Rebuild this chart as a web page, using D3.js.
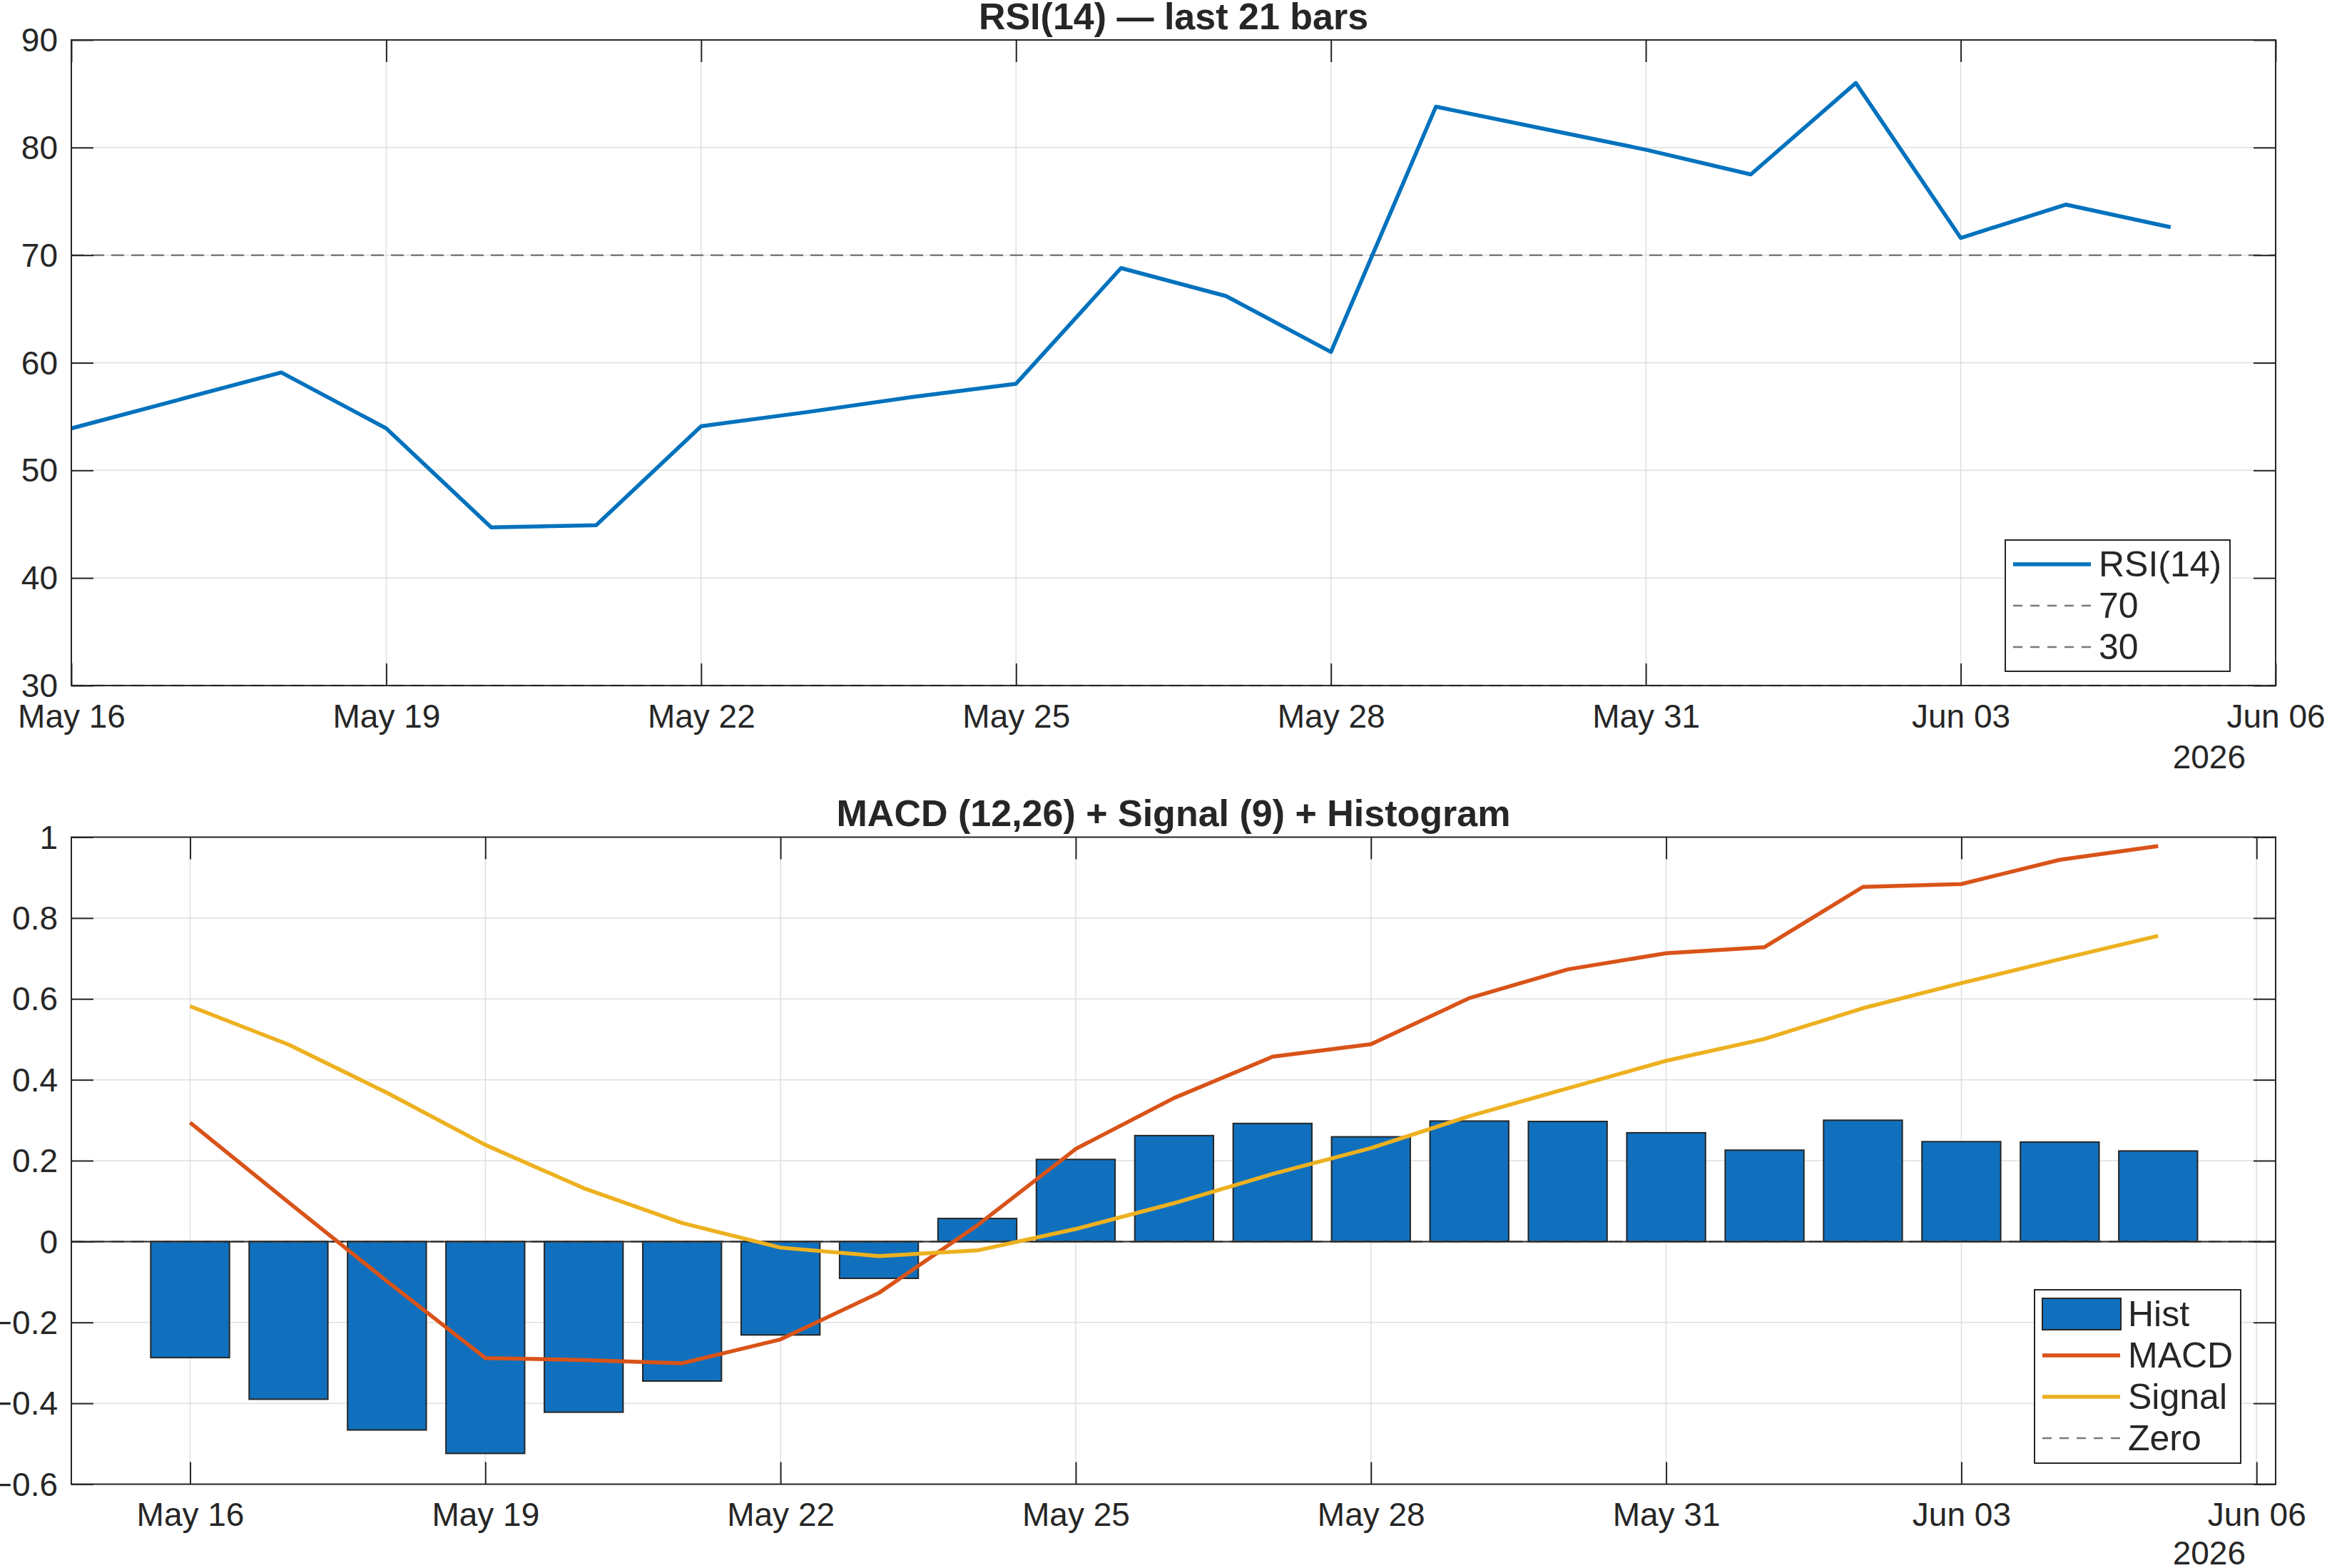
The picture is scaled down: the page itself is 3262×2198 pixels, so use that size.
<!DOCTYPE html>
<html>
<head>
<meta charset="utf-8">
<script src="https://cdn.jsdelivr.net/npm/d3@7"></script>
<style>
body { margin: 0; background: #fff; }
text { font-family: "Liberation Sans", Arial, Helvetica, sans-serif; fill: #262626; }
</style>
</head>
<body>
<div id="chart"></div>
<script>
// Data (21 daily bars)
var dates = ["2026-05-16", "2026-05-17", "2026-05-18", "2026-05-19", "2026-05-20", "2026-05-21", "2026-05-22",
             "2026-05-23", "2026-05-24", "2026-05-25", "2026-05-26", "2026-05-27", "2026-05-28", "2026-05-29",
             "2026-05-30", "2026-05-31", "2026-06-01", "2026-06-02", "2026-06-03", "2026-06-04", "2026-06-05"];
var rsi = [53.9, 56.5, 59.1, 53.9, 44.7, 44.9, 54.1, 55.4, 56.8, 58.05, 68.8,
           66.2, 61.0, 83.8, 81.8, 79.8, 77.5, 86.0, 71.6, 74.7, 72.6];
var hist = [-0.287, -0.390, -0.466, -0.524, -0.422, -0.345, -0.231, -0.091, 0.057, 0.203, 0.262,
            0.292, 0.259, 0.298, 0.297, 0.269, 0.226, 0.300, 0.247, 0.246, 0.224];
var macd = [0.294, 0.097, -0.098, -0.288, -0.293, -0.301, -0.242, -0.127, 0.040, 0.229, 0.355,
            0.457, 0.488, 0.602, 0.673, 0.713, 0.728, 0.877, 0.884, 0.944, 0.978];
var signal = [0.582, 0.487, 0.368, 0.239, 0.132, 0.046, -0.015, -0.036, -0.022, 0.031, 0.095,
              0.167, 0.231, 0.310, 0.379, 0.447, 0.501, 0.577, 0.639, 0.698, 0.756];
var tickDates = ["2026-05-16", "2026-05-19", "2026-05-22", "2026-05-25", "2026-05-28", "2026-05-31", "2026-06-03", "2026-06-06"];
var rsiTicks = [30, 40, 50, 60, 70, 80, 90];
var macdTicks = [-0.6, -0.4, -0.2, 0, 0.2, 0.4, 0.6, 0.8, 1];
var rsiLevels = [70, 30];

var parseDate = d3.timeParse("%Y-%m-%d");
var fmtDate = d3.timeFormat("%b %d");
var DAY = 86400000;

var days = dates.map(parseDate);
var ticks = tickDates.map(parseDate);

var W = 3262, H = 2198;
var axisColor = "#262626", gridColor = "#dfdfdf";
var tickLen = 31;
var lineW = 5.5;

var svg = d3.select("#chart")
    .append("svg")
        .attr("width", W)
        .attr("height", H)
        .style("display", "block");

svg.append("rect").attr("width", W).attr("height", H).attr("fill", "#fff");

// grid lines under the data
function drawGrid(g, x, y, width, height, yTicks) {
    g.append("g").selectAll("line")
        .data(ticks)
        .enter().append("line")
            .attr("x1", d => x(d)).attr("x2", d => x(d))
            .attr("y1", 0).attr("y2", height)
            .attr("stroke", gridColor).attr("stroke-width", 1.5);
    g.append("g").selectAll("line")
        .data(yTicks)
        .enter().append("line")
            .attr("x1", 0).attr("x2", width)
            .attr("y1", d => y(d)).attr("y2", d => y(d))
            .attr("stroke", gridColor).attr("stroke-width", 1.5);
}

// ticks on all four sides + box, MATLAB style
function drawAxes(g, x, y, width, height, yTicks, yFmt, yearY) {
    var bottom = g.append("g")
        .attr("transform", "translate(0," + height + ")")
        .call(d3.axisBottom(x).tickValues(ticks).tickFormat(fmtDate)
            .tickSizeInner(-tickLen).tickSizeOuter(0).tickPadding(26));
    var top = g.append("g")
        .call(d3.axisTop(x).tickValues(ticks).tickFormat("")
            .tickSizeInner(-tickLen).tickSizeOuter(0));
    var left = g.append("g")
        .call(d3.axisLeft(y).tickValues(yTicks).tickFormat(yFmt)
            .tickSizeInner(-tickLen).tickSizeOuter(0).tickPadding(19));
    var right = g.append("g")
        .attr("transform", "translate(" + width + ",0)")
        .call(d3.axisRight(y).tickValues(yTicks).tickFormat("")
            .tickSizeInner(-tickLen).tickSizeOuter(0));
    [bottom, top, left, right].forEach(function(a) {
        a.select(".domain").remove();
        a.selectAll(".tick line").attr("stroke", axisColor).attr("stroke-width", 2);
        a.selectAll(".tick text")
            .attr("font-size", "46px")
            .attr("font-family", "Liberation Sans, Arial, sans-serif")
            .attr("fill", axisColor);
    });
    left.selectAll(".tick text").attr("dy", "0.34em");

    g.append("rect")
        .attr("width", width).attr("height", height)
        .attr("fill", "none")
        .attr("stroke", axisColor).attr("stroke-width", 2);

    g.append("text")
        .attr("x", 3148 - 100)
        .attr("y", yearY)
        .attr("text-anchor", "end")
        .attr("font-size", "46px")
        .text("2026");
}

function legend(items, bx, by, bw, bh) {
    var lg = svg.append("g");
    lg.append("rect")
        .attr("x", bx).attr("y", by).attr("width", bw).attr("height", bh)
        .attr("fill", "#fff").attr("stroke", axisColor).attr("stroke-width", 2);
    items.forEach(function(it, i) {
        var cy = by + 34 + i * 58;
        if (it.type === "patch") {
            lg.append("rect")
                .attr("x", bx + 11).attr("y", cy - 22).attr("width", 110).attr("height", 44)
                .attr("fill", it.color).attr("stroke", axisColor).attr("stroke-width", 2);
        } else {
            lg.append("line")
                .attr("x1", bx + 11).attr("x2", bx + 120)
                .attr("y1", cy).attr("y2", cy)
                .attr("stroke", it.color)
                .attr("stroke-width", it.dash ? 2.5 : lineW)
                .attr("stroke-dasharray", it.dash ? "13,11" : null);
        }
        lg.append("text")
            .attr("x", bx + 131)
            .attr("y", cy + 17)
            .attr("font-size", "50px")
            .text(it.label);
    });
}

// ---------- RSI panel ----------
var m1 = {left: 100, top: 56, width: 3090, height: 905};
var g1 = svg.append("g").attr("transform", "translate(" + m1.left + "," + m1.top + ")");

var x1 = d3.scaleTime()
    .domain([parseDate("2026-05-16"), parseDate("2026-06-06")])
    .range([0, m1.width]);
var y1 = d3.scaleLinear().domain([30, 90]).range([m1.height, 0]);

drawGrid(g1, x1, y1, m1.width, m1.height, rsiTicks);

g1.selectAll("line.lvl")
    .data(rsiLevels)
    .enter().append("line")
        .attr("class", "lvl")
        .attr("x1", 0).attr("x2", m1.width)
        .attr("y1", d => y1(d)).attr("y2", d => y1(d))
        .attr("stroke", "#7a7a7a").attr("stroke-width", 2.5)
        .attr("stroke-dasharray", "18,10");

var rsiLine = d3.line()
    .x((d, i) => x1(days[i]))
    .y(d => y1(d));
g1.append("path")
    .datum(rsi)
    .attr("d", rsiLine)
    .attr("fill", "none")
    .attr("stroke", "#0072BD")
    .attr("stroke-width", lineW)
    .attr("stroke-linejoin", "round");

drawAxes(g1, x1, y1, m1.width, m1.height, rsiTicks, d3.format("d"), 1076.7 - m1.top);

svg.append("text")
    .attr("x", m1.left + m1.width / 2)
    .attr("y", 40.7)
    .attr("text-anchor", "middle")
    .attr("font-size", "52px")
    .attr("font-weight", "bold")
    .text("RSI(14) \u2014 last 21 bars");

legend([
    {label: "RSI(14)", color: "#0072BD"},
    {label: "70", color: "#7a7a7a", dash: true},
    {label: "30", color: "#7a7a7a", dash: true}
], 2811, 757, 315, 184);

// ---------- MACD panel ----------
var m2 = {left: 100, top: 1173.5, width: 3090, height: 907};
var g2 = svg.append("g").attr("transform", "translate(" + m2.left + "," + m2.top + ")");

var x2 = d3.scaleTime()
    .domain([new Date(+parseDate("2026-05-16") - 1.207 * DAY), new Date(+parseDate("2026-06-06") + 0.194 * DAY)])
    .range([0, m2.width]);
var y2 = d3.scaleLinear().domain([-0.6, 1]).range([m2.height, 0]);

drawGrid(g2, x2, y2, m2.width, m2.height, macdTicks);

g2.selectAll("rect.bar")
    .data(hist)
    .enter().append("rect")
        .attr("class", "bar")
        .attr("x", (d, i) => x2(new Date(+days[i] - 0.4 * DAY)))
        .attr("width", (d, i) => x2(new Date(+days[i] + 0.4 * DAY)) - x2(new Date(+days[i] - 0.4 * DAY)))
        .attr("y", d => y2(Math.max(0, d)))
        .attr("height", d => Math.abs(y2(d) - y2(0)))
        .attr("fill", "#1070bd")
        .attr("stroke", axisColor)
        .attr("stroke-width", 2);

// zero reference (dashed) and bar baseline (solid)
g2.append("line")
    .attr("x1", 0).attr("x2", m2.width)
    .attr("y1", y2(0)).attr("y2", y2(0))
    .attr("stroke", "#7a7a7a").attr("stroke-width", 2.5)
    .attr("stroke-dasharray", "18,10");
g2.append("line")
    .attr("x1", 0).attr("x2", m2.width)
    .attr("y1", y2(0)).attr("y2", y2(0))
    .attr("stroke", axisColor).attr("stroke-width", 2);

var line2 = d3.line()
    .x((d, i) => x2(days[i]))
    .y(d => y2(d));

g2.append("path")
    .datum(macd)
    .attr("d", line2)
    .attr("fill", "none")
    .attr("stroke", "#D95319")
    .attr("stroke-width", lineW)
    .attr("stroke-linejoin", "round");

g2.append("path")
    .datum(signal)
    .attr("d", line2)
    .attr("fill", "none")
    .attr("stroke", "#EDB120")
    .attr("stroke-width", lineW)
    .attr("stroke-linejoin", "round");

drawAxes(g2, x2, y2, m2.width, m2.height, macdTicks, d3.format("~g"), 2193 - m2.top);

svg.append("text")
    .attr("x", m2.left + m2.width / 2)
    .attr("y", 1157.7)
    .attr("text-anchor", "middle")
    .attr("font-size", "52px")
    .attr("font-weight", "bold")
    .text("MACD (12,26) + Signal (9) + Histogram");

legend([
    {label: "Hist", color: "#1070bd", type: "patch"},
    {label: "MACD", color: "#D95319"},
    {label: "Signal", color: "#EDB120"},
    {label: "Zero", color: "#7a7a7a", dash: true}
], 2852, 1808, 289, 243);
</script>
</body>
</html>
